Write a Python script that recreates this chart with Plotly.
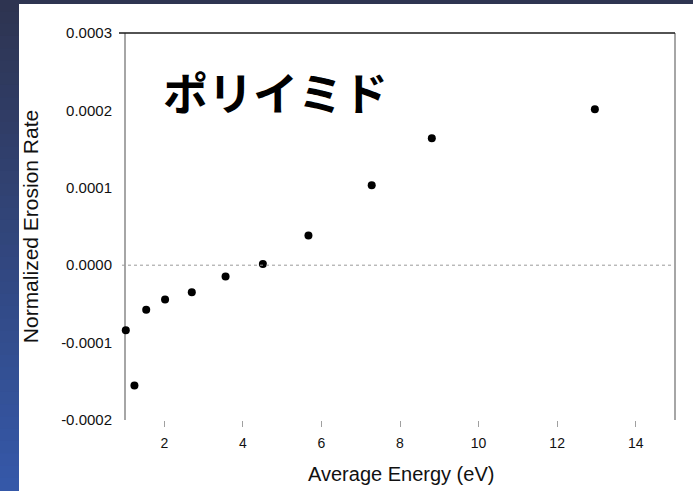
import plotly.graph_objects as go

# Data
energy_ev = [1.02, 1.24, 1.54, 2.02, 2.70, 3.56, 4.51, 5.67, 7.28, 8.81, 12.96]
erosion_rate = [-0.000084, -0.0001555, -0.0000577, -0.0000443, -0.0000349, -0.0000146,
                0.0000017, 0.0000384, 0.0001034, 0.000164, 0.0002016]
x_ticks = [2, 4, 6, 8, 10, 12, 14]
y_ticks = [-0.0002, -0.0001, 0.0, 0.0001, 0.0002, 0.0003]
y_tick_text = ["-0.0002", "-0.0001", "0.0000", "0.0001", "0.0002", "0.0003"]
y_marked_ticks = [0.0001, 0.0003]

W, H = 693, 491
L, R, T, B = 125, 675, 33, 420  # plot area in pixels


def px_x(p):
    return (p - L) / (R - L)


def px_y(p):
    return (B - p) / (B - T)


fig = go.Figure()
fig.add_trace(go.Scatter(
    x=energy_ev, y=erosion_rate, mode="markers",
    marker=dict(color="black", size=8, symbol="circle"),
    showlegend=False, hoverinfo="x+y", cliponaxis=False,
))

shapes = []
# slide background: top dark band
shapes.append(dict(type="rect", xref="paper", yref="paper", layer="below",
                   x0=px_x(0), x1=px_x(W), y0=px_y(4), y1=px_y(0),
                   fillcolor="#2e3551", line=dict(width=0)))
# left gradient band
n = 40
c0 = (0x2e, 0x34, 0x51)
c1 = (0x35, 0x58, 0xa8)
for i in range(n):
    t = i / (n - 1)
    c = tuple(int(round(a + (b - a) * t)) for a, b in zip(c0, c1))
    y0p = H * i / n - 1
    y1p = H * (i + 1) / n + 2
    shapes.append(dict(type="rect", xref="paper", yref="paper", layer="below",
                       x0=px_x(0), x1=px_x(19), y0=px_y(y1p), y1=px_y(y0p),
                       fillcolor="rgb(%d,%d,%d)" % c, line=dict(width=0)))
# dotted zero line
shapes.append(dict(type="line", xref="paper", yref="y", x0=px_x(122), x1=1,
                   y0=0, y1=0, line=dict(color="#9a9a9a", width=1, dash="dot")))
# left and right borders
shapes.append(dict(type="line", xref="paper", yref="paper", x0=0, x1=0, y0=0, y1=1,
                   line=dict(color="#a6a6a6", width=2), layer="below"))
shapes.append(dict(type="line", xref="paper", yref="paper", x0=1, x1=1, y0=0, y1=1,
                   line=dict(color="#a6a6a6", width=2)))
# top border
shapes.append(dict(type="line", xref="paper", yref="paper", x0=px_x(119), x1=1, y0=1, y1=1,
                   line=dict(color="#1a1a1a", width=1.5)))

annotations = [
    dict(text="<b>ポリイミド</b>", xref="paper", yref="paper", x=px_x(275), y=px_y(91),
         showarrow=False, xanchor="center", yanchor="middle",
         font=dict(family="Noto Sans CJK JP", size=45, color="black")),
    dict(text="Average Energy (eV)", xref="paper", yref="paper", x=px_x(401), y=px_y(474),
         showarrow=False, xanchor="center", yanchor="middle",
         font=dict(family="Liberation Sans, Arial", size=20, color="#111111")),
]

fig.update_layout(
    width=W, height=H,
    margin=dict(l=L, r=W - R, t=T, b=H - B, pad=0),
    paper_bgcolor="white", plot_bgcolor="white",
    shapes=shapes, annotations=annotations,
    font=dict(family="Liberation Sans, Arial", size=15, color="#111111"),
    xaxis=dict(range=[1, 15], tickvals=x_ticks, ticks="outside", ticklen=6,
               tickcolor="#a0a0a0", tickwidth=1, showgrid=False, zeroline=False,
               showline=False, ticklabelstandoff=4,
               tickfont=dict(family="Liberation Sans, Arial", size=14, color="#111111")),
    yaxis=dict(range=[-0.0002, 0.0003], tickvals=y_ticks, ticktext=y_tick_text,
               ticks="", showgrid=False, zeroline=False, showline=False,
               ticklabelstandoff=12,
               tickfont=dict(family="Liberation Sans, Arial", size=15, color="#111111"),
               title=dict(text="Normalized Erosion Rate", standoff=16,
                          font=dict(family="Liberation Sans, Arial", size=21,
                                    color="#111111"))),
    yaxis2=dict(range=[-0.0002, 0.0003], overlaying="y", side="left",
                tickvals=y_marked_ticks, ticks="outside", ticklen=6,
                tickcolor="#555555", tickwidth=1, showticklabels=False,
                showgrid=False, zeroline=False, showline=False),
)

fig.write_html("out.html")
